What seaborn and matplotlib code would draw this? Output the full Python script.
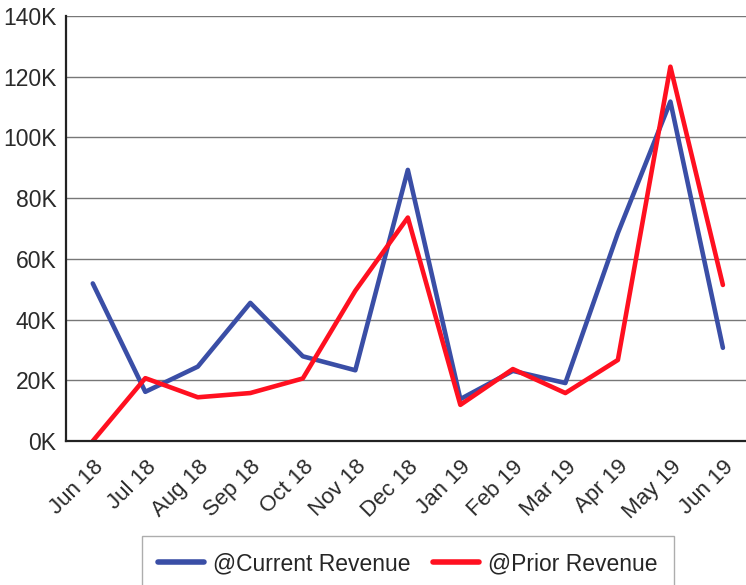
import pandas as pd
import matplotlib.pyplot as plt
import seaborn as sns

months = ["Jun 18", "Jul 18", "Aug 18", "Sep 18", "Oct 18", "Nov 18", "Dec 18",
          "Jan 19", "Feb 19", "Mar 19", "Apr 19", "May 19", "Jun 19"]
current_revenue = [51900, 16200, 24500, 45500, 27900, 23300, 89300,
                   13800, 23100, 19100, 68500, 111800, 30700]
prior_revenue = [0, 20700, 14400, 15800, 20600, 49500, 73600,
                 11900, 23700, 15800, 26700, 123300, 51400]

series_names = ["@Current Revenue", "@Prior Revenue"]
colors = ["#3a4ea6", "#ff1020"]

df = pd.DataFrame({
    "month": months * 2,
    "x": list(range(len(months))) * 2,
    "revenue": current_revenue + prior_revenue,
    "series": [series_names[0]] * len(months) + [series_names[1]] * len(months),
})

sns.set_theme(style="white")
plt.rcParams["font.family"] = ["Liberation Sans", "DejaVu Sans"]

fig = plt.figure(figsize=(7.46, 5.85), dpi=100)
ax = fig.add_axes([66 / 746, 1 - 441 / 585, 1 - 66 / 746, (441 - 16) / 585])

sns.lineplot(data=df, x="x", y="revenue", hue="series", palette=colors,
             linewidth=3.3, ax=ax, legend=True)

ax.set_xlim(-0.51, 12.44)
ax.set_ylim(0, 140000)
ax.set_yticks(range(0, 140001, 20000))
ax.set_yticklabels([f"{v // 1000}K" for v in range(0, 140001, 20000)], fontsize=16.5, color="#2a2a2a")
ax.set_xticks(range(len(months)))
ax.set_xticklabels(months, fontsize=16, color="#2a2a2a", rotation=45,
                   ha="right", va="top", rotation_mode="anchor")
ax.tick_params(axis="both", length=0)
ax.tick_params(axis="x", pad=11)
ax.tick_params(axis="y", pad=7)
ax.set_xlabel("")
ax.set_ylabel("")

ax.grid(axis="y", color="#777777", linewidth=1.0)
ax.set_axisbelow(True)
for side in ["top", "right"]:
    ax.spines[side].set_visible(False)
for side in ["left", "bottom"]:
    ax.spines[side].set_color("#222222")
    ax.spines[side].set_linewidth(1.6)

handles, labels = ax.get_legend_handles_labels()
ax.get_legend().remove()
leg = fig.legend(handles, labels, loc="upper left", ncol=2,
                 bbox_to_anchor=(142 / 746, 1 - 536 / 585), borderaxespad=0,
                 fontsize=16.5, frameon=True, fancybox=False,
                 handlelength=2.0, handletextpad=0.4, columnspacing=1.0,
                 borderpad=0.7)
leg.get_frame().set_edgecolor("#999999")
leg.get_frame().set_linewidth(1.0)
for line in leg.get_lines():
    line.set_linewidth(4)

fig.savefig("out.png", dpi=100)
